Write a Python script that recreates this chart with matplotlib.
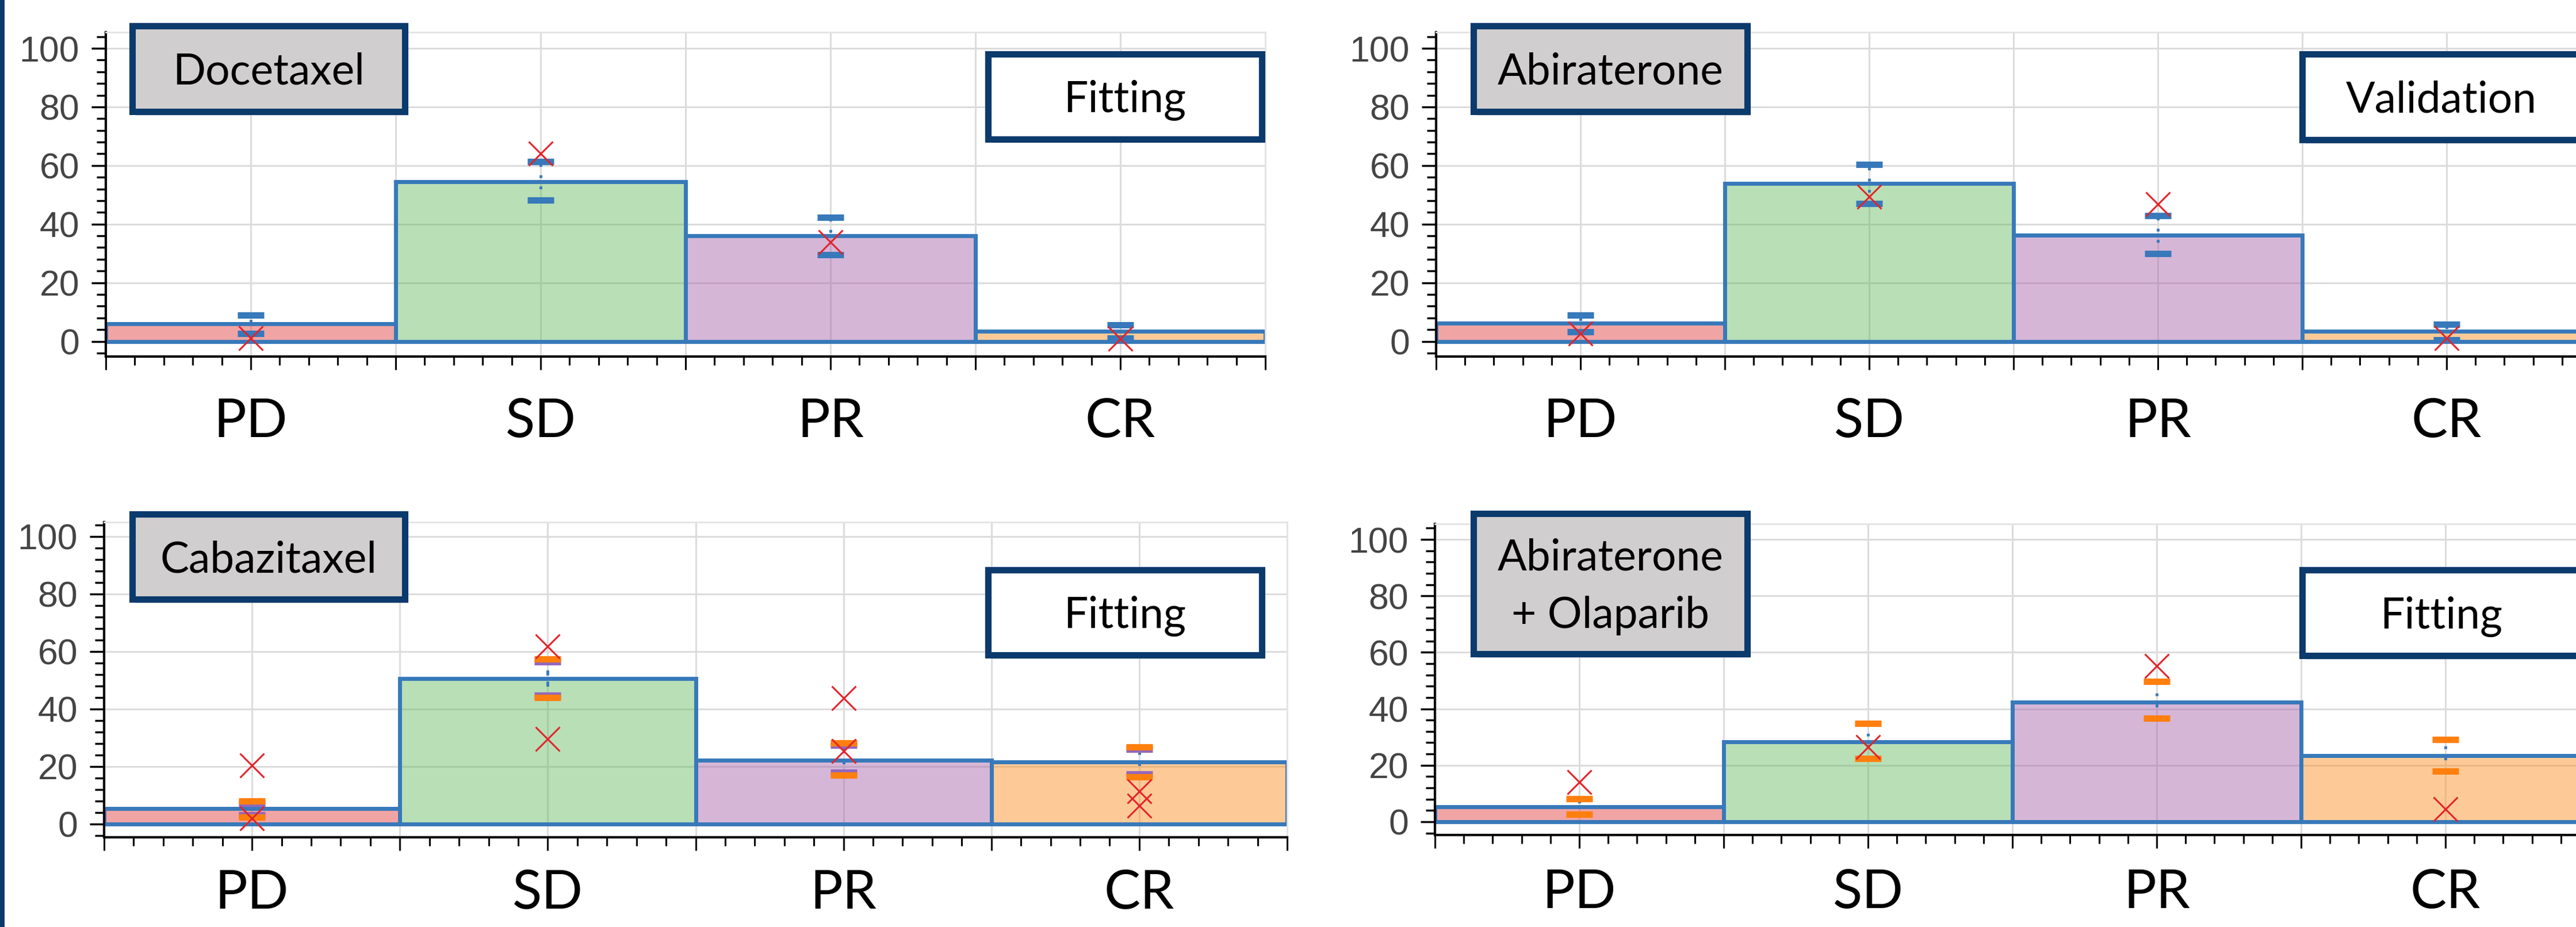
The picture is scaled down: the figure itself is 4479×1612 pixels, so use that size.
import matplotlib
matplotlib.use("Agg")
import matplotlib.pyplot as plt
from matplotlib.patches import Rectangle
from matplotlib.ticker import MultipleLocator
import numpy as np

W, H = 4479, 1612
DPI = 100

categories = ["PD", "SD", "PR", "CR"]

# Docetaxel (fitting)
dtx_sim = [6.0, 54.5, 36.0, 3.5]
dtx_lo = [2.7, 48.1, 29.6, 1.0]
dtx_hi = [9.0, 61.4, 42.3, 5.5]
dtx_obs = [1.0, 64.0, 33.9, 0.8]

# Abiraterone (validation)
abi_sim = [6.2, 53.8, 36.3, 3.5]
abi_lo = [3.3, 47.0, 30.0, 0.5]
abi_hi = [9.0, 60.3, 42.8, 5.7]
abi_obs = [2.7, 49.4, 46.8, 1.0]

# Cabazitaxel (fitting), two observed sets
cbz_sim = [5.4, 50.5, 22.2, 21.5]
cbz_lo_a = [2.4, 43.9, 17.0, 16.4]
cbz_hi_a = [8.0, 57.3, 28.2, 26.8]
cbz_lo_b = [3.2, 44.8, 17.9, 17.3]
cbz_hi_b = [7.2, 56.4, 27.3, 25.9]
cbz_obs1 = [20.4, 61.7, 43.8, 11.4]
cbz_obs2 = [2.0, 29.6, 25.4, 6.3]

# Abiraterone + Olaparib (fitting)
ao_sim = [5.3, 28.4, 42.3, 23.5]
ao_lo = [2.7, 22.4, 36.6, 18.0]
ao_hi = [8.1, 34.9, 49.7, 29.2]
ao_obs = [14.1, 26.4, 55.1, 4.4]

navy = "#0b3a6c"
edge = "#3779ba"
orange = "#ff7f0e"
purple = "#9467bd"
red = "#e3242b"
fills = [(0.886, 0.216, 0.216, 0.45), (0.388, 0.722, 0.365, 0.45),
         (0.643, 0.373, 0.659, 0.45), (0.984, 0.545, 0.094, 0.45)]

fig = plt.figure(figsize=(W / DPI, H / DPI), dpi=DPI)


def add_panel(l, r, t, b, ylim, sim, caps, obs_sets, xpad):
    ax = fig.add_axes([l / W, 1 - b / H, (r - l) / W, (b - t) / H])
    x = np.arange(len(categories))
    ax.bar(x, sim, width=1.0, color=fills, edgecolor=edge, linewidth=5, zorder=2)
    for lo, hi, c in caps:
        ax.vlines(x, lo, hi, colors=edge, linestyles=(0, (1, 3)), linewidth=3.5, zorder=3)
        ax.plot(x, hi, linestyle="none", marker="_", markersize=33, markeredgewidth=8, color=c, zorder=4)
        ax.plot(x, lo, linestyle="none", marker="_", markersize=33, markeredgewidth=8, color=c, zorder=4)
    for obs in obs_sets:
        ax.plot(x, obs, linestyle="none", marker="x", markersize=30, markeredgewidth=2.2, color=red, zorder=5)

    ax.set_xlim(-0.5, 3.5)
    ax.set_ylim(*ylim)
    majors = np.arange(-0.5, 3.51, 0.5)
    labels = ["", "PD", "", "SD", "", "PR", "", "CR", ""]
    ax.set_xticks(majors)
    ax.set_xticklabels(labels, fontfamily="Lato", fontsize=68, color="black")
    ax.xaxis.set_minor_locator(MultipleLocator(0.1))
    ax.set_yticks([0, 20, 40, 60, 80, 100])
    ax.set_yticklabels(["0", "20", "40", "60", "80", "100"],
                       fontfamily="Liberation Sans", fontsize=45, color="#444444")
    ax.yaxis.set_minor_locator(MultipleLocator(4))

    ax.tick_params(axis="x", which="major", length=16.5, width=2.2, pad=xpad)
    ax.tick_params(axis="x", which="minor", length=11, width=2.2)
    ax.tick_params(axis="y", which="major", length=18, width=2.5, pad=15)
    ax.tick_params(axis="y", which="minor", length=11.5, width=2.5)

    ax.set_axisbelow(True)
    ax.grid(True, which="major", color="#dcdcdc", linewidth=2.2)
    for s in ["left", "bottom"]:
        ax.spines[s].set_color("black")
        ax.spines[s].set_linewidth(3)
    for s in ["top", "right"]:
        ax.spines[s].set_color("#e3e3e3")
        ax.spines[s].set_linewidth(2)
    return ax


def label_box(x0, y0, x1, y1, lines, face):
    shadow = Rectangle(((x0 + 6) / W, 1 - (y1 + 7) / H), (x1 - x0) / W, (y1 - y0) / H,
                       transform=fig.transFigure, facecolor="#9a9a9a", edgecolor="none", alpha=0.35)
    rect = Rectangle((x0 / W, 1 - y1 / H), (x1 - x0) / W, (y1 - y0) / H,
                     transform=fig.transFigure, facecolor=face, edgecolor=navy, linewidth=8)
    fig.add_artist(shadow)
    fig.add_artist(rect)
    cx = (x0 + x1) / 2
    cy = (y0 + y1) / 2
    step = 100
    first = cy - step * (len(lines) - 1) / 2
    for i, line in enumerate(lines):
        base = first + i * step + 27
        fig.text(cx / W, 1 - base / H, line, ha="center", va="baseline",
                 fontfamily="Lato", fontsize=54, color="black")


add_panel(184, 2200, 56, 620, (-5.2, 105.5), dtx_sim,
          [(dtx_lo, dtx_hi, edge)], [dtx_obs], 35)
add_panel(2497, 4505, 56, 620, (-5.2, 105.5), abi_sim,
          [(abi_lo, abi_hi, edge)], [abi_obs], 35)
add_panel(181, 2238, 908, 1456, (-4.7, 105.0), cbz_sim,
          [(cbz_lo_b, cbz_hi_b, purple), (cbz_lo_a, cbz_hi_a, orange)],
          [cbz_obs1, cbz_obs2], 24)
add_panel(2495, 4503, 911, 1452, (-4.7, 105.5), ao_sim,
          [(ao_lo, ao_hi, orange)], [ao_obs], 26)

label_box(230, 45, 704, 194, ["Docetaxel"], "#d0cece")
label_box(1718, 94, 2194, 242, ["Fitting"], "white")
label_box(2562, 45, 3038, 194, ["Abiraterone"], "#d0cece")
label_box(4003, 94, 4486, 243, ["Validation"], "white")
label_box(230, 894, 704, 1042, ["Cabazitaxel"], "#d0cece")
label_box(1718, 991, 2194, 1139, ["Fitting"], "white")
label_box(2562, 893, 3038, 1137, ["Abiraterone", "+ Olaparib"], "#d0cece")
label_box(4003, 991, 4486, 1140, ["Fitting"], "white")

fig.add_artist(Rectangle((0, 0), 8 / W, 1, transform=fig.transFigure,
                         facecolor=navy, edgecolor="none"))

fig.savefig("out.png", dpi=DPI)
